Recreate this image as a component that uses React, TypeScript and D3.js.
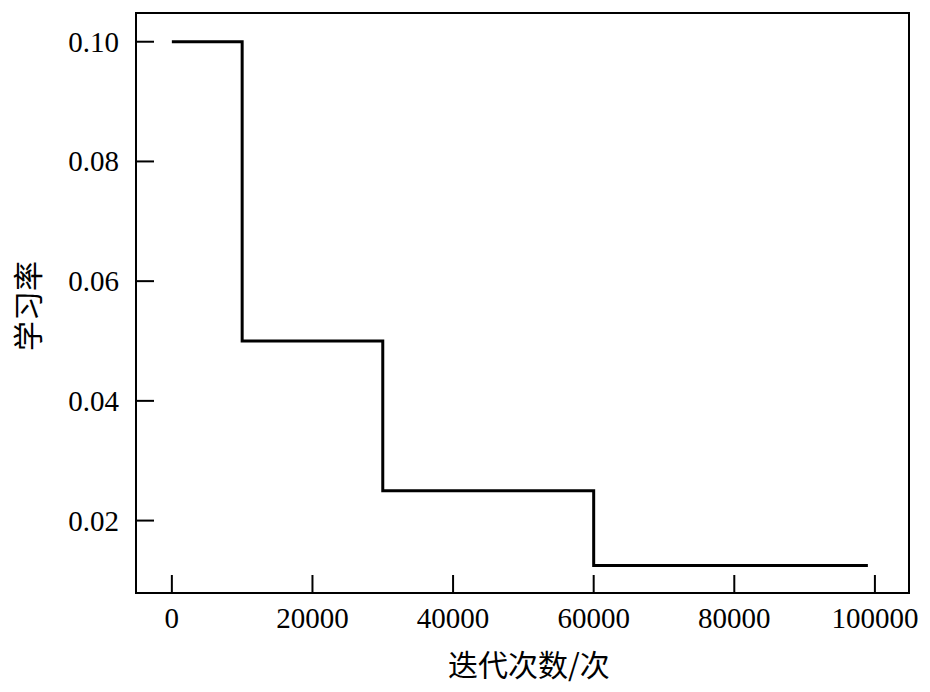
import React from "react";
import * as d3 from "d3";

const stepIterations = [0, 10000, 30000, 60000, 99000];
const learningRates = [0.1, 0.05, 0.025, 0.0125, 0.0125];
const xTicks = [0, 20000, 40000, 60000, 80000, 100000];
const yTicks = [0.02, 0.04, 0.06, 0.08, 0.1];
const xTitle = "迭代次数/次";
const yTitle = "学习率";

const W = 930;
const H = 692;
const left = 136;
const right = 909;
const top = 13;
const bottom = 593;

export default function App() {
  const x = d3.scaleLinear().domain([-5100, 104850]).range([left, right]);
  const y = d3.scaleLinear().domain([0.0079, 0.1048]).range([bottom, top]);
  const pts: [number, number][] = stepIterations.map((v, i) => [v, learningRates[i]]);
  const line = d3
    .line<[number, number]>()
    .x((d) => x(d[0]))
    .y((d) => y(d[1]))
    .curve(d3.curveStepAfter);
  const serif = "'Liberation Serif', 'DejaVu Serif', serif";
  const cjk = "'Noto Sans CJK SC', sans-serif";
  return (
    <svg
      width={W}
      height={H}
      style={{ position: "absolute", left: 0, top: 0, background: "#fff" }}
    >
      <rect x={0} y={0} width={W} height={H} fill="#fff" />
      {yTicks.map((t) => (
        <g key={"y" + t}>
          <line x1={left} x2={left + 18} y1={y(t)} y2={y(t)} stroke="#000" strokeWidth={2} />
          <text
            x={left - 17}
            y={y(t) + 10}
            textAnchor="end"
            fontFamily={serif}
            fontSize={29}
            fill="#000"
          >
            {t.toFixed(2)}
          </text>
        </g>
      ))}
      {xTicks.map((t) => (
        <g key={"x" + t}>
          <line x1={x(t)} x2={x(t)} y1={bottom} y2={bottom - 18} stroke="#000" strokeWidth={2} />
          <text
            x={x(t)}
            y={bottom + 35}
            textAnchor="middle"
            fontFamily={serif}
            fontSize={29}
            fill="#000"
          >
            {t}
          </text>
        </g>
      ))}
      <path d={line(pts) || ""} fill="none" stroke="#000" strokeWidth={3} />
      <rect
        x={left}
        y={top}
        width={right - left}
        height={bottom - top}
        fill="none"
        stroke="#000"
        strokeWidth={2}
      />
      <text
        x={529}
        y={676}
        textAnchor="middle"
        fontFamily={cjk}
        fontSize={30}
        fill="#000"
      >
        {xTitle}
      </text>
      <text
        transform={`translate(39, 306) rotate(-90)`}
        textAnchor="middle"
        fontFamily={cjk}
        fontSize={30}
        fill="#000"
      >
        {yTitle}
      </text>
    </svg>
  );
}
